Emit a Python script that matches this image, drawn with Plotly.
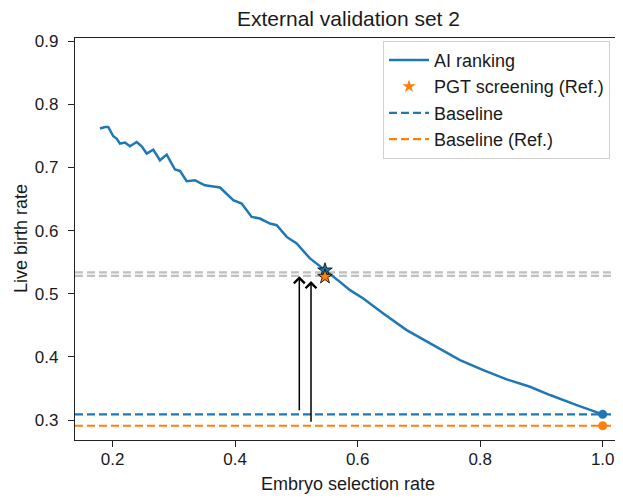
import plotly.graph_objects as go

# ---- data ----
sel_rate = [0.1793, 0.1874, 0.1928, 0.1956, 0.2010, 0.2065, 0.2119, 0.2201, 0.2282, 0.2392,
            0.2473, 0.2555, 0.2663, 0.2772, 0.2882, 0.3017, 0.3099, 0.3208, 0.3344, 0.3425,
            0.3507, 0.3616, 0.3752, 0.3969, 0.4106, 0.4269, 0.4405, 0.4568, 0.4678, 0.4841,
            0.5004, 0.5221, 0.5438, 0.5711, 0.5874, 0.6091, 0.6418, 0.6800, 0.7234, 0.7670,
            0.8051, 0.8433, 0.8813, 0.9140, 0.9576, 1.0]
live_birth = [0.7616, 0.7641, 0.7641, 0.7589, 0.7494, 0.7457, 0.7378, 0.7394, 0.7335, 0.7403,
              0.7335, 0.7220, 0.7283, 0.7114, 0.7204, 0.6967, 0.6945, 0.6782, 0.6797, 0.6755,
              0.6718, 0.6703, 0.6682, 0.6481, 0.6429, 0.6217, 0.6191, 0.6112, 0.6085, 0.5900,
              0.5796, 0.5559, 0.5400, 0.5188, 0.5057, 0.4926, 0.4688, 0.4424, 0.4187, 0.3949,
              0.3791, 0.3644, 0.3527, 0.3396, 0.3237, 0.3090]

baseline = 0.309
baseline_ref = 0.291
pgt_x = 0.5466
pgt_ai_y = 0.537
pgt_ref_y = 0.527
gray_levels = [0.5337, 0.5283]
arrow_x = [0.5047, 0.5238]
arrow_tail = [0.3131, 0.2948]
arrow_tip = [0.5278, 0.5200]

x_ticks = [0.2, 0.4, 0.6, 0.8, 1.0]
x_tick_labels = ["0.2", "0.4", "0.6", "0.8", "1.0"]
y_ticks = [0.3, 0.4, 0.5, 0.6, 0.7, 0.8, 0.9]
y_tick_labels = ["0.3", "0.4", "0.5", "0.6", "0.7", "0.8", "0.9"]

BLUE = "#1f77b4"
ORANGE = "#ff7f0e"
GRAY = "#c0c0c0"
INK = "#1a1a1a"
FONT = "Liberation Sans, Arial, sans-serif"

x_range = [0.1385, 1.0364]
y_range = [0.2684, 0.905]

fig = go.Figure()

# gray reference lines (full width)
for g in gray_levels:
    fig.add_trace(go.Scatter(x=x_range, y=[g, g], mode="lines",
                             line=dict(color=GRAY, width=2.2, dash="8px,4px"),
                             showlegend=False, hoverinfo="skip"))

# baselines
fig.add_trace(go.Scatter(x=x_range, y=[baseline, baseline], mode="lines",
                         line=dict(color=BLUE, width=2.2, dash="8px,4px"),
                         showlegend=False, hoverinfo="skip"))
fig.add_trace(go.Scatter(x=x_range, y=[baseline_ref, baseline_ref], mode="lines",
                         line=dict(color=ORANGE, width=2.2, dash="8px,4px"),
                         showlegend=False, hoverinfo="skip"))

# AI ranking curve
fig.add_trace(go.Scatter(x=sel_rate, y=live_birth, mode="lines", name="AI ranking",
                         line=dict(color=BLUE, width=2.5)))

# end dots
fig.add_trace(go.Scatter(x=[1.0], y=[baseline], mode="markers", showlegend=False,
                         marker=dict(color=BLUE, size=9)))
fig.add_trace(go.Scatter(x=[1.0], y=[baseline_ref], mode="markers", showlegend=False,
                         marker=dict(color=ORANGE, size=9)))

# stars
fig.add_trace(go.Scatter(x=[pgt_x], y=[pgt_ai_y], mode="markers", showlegend=False,
                         marker=dict(symbol="star", color=BLUE, size=11,
                                     line=dict(color="black", width=0.8))))
fig.add_trace(go.Scatter(x=[pgt_x], y=[pgt_ref_y], mode="markers", showlegend=False,
                         marker=dict(symbol="star", color=ORANGE, size=11,
                                     line=dict(color="black", width=0.8))))

# legend-only entries
fig.add_trace(go.Scatter(x=[None], y=[None], mode="markers", name="PGT screening (Ref.)",
                         marker=dict(symbol="star", color=ORANGE, size=10)))
fig.add_trace(go.Scatter(x=[None], y=[None], mode="lines", name="Baseline",
                         line=dict(color=BLUE, width=2.2, dash="8px,4px")))
fig.add_trace(go.Scatter(x=[None], y=[None], mode="lines", name="Baseline (Ref.)",
                         line=dict(color=ORANGE, width=2.2, dash="8px,4px")))

# arrows
for ax_, t0, t1 in zip(arrow_x, arrow_tail, arrow_tip):
    fig.add_annotation(x=ax_, y=t1, ax=ax_, ay=t0, xref="x", yref="y", axref="x", ayref="y",
                       text="", showarrow=True, arrowhead=4, arrowsize=1.4,
                       arrowwidth=1.5, arrowcolor="black", standoff=0, startstandoff=0)

# titles as annotations for precise placement
fig.add_annotation(text="External validation set 2", xref="paper", yref="paper",
                   x=0.4964, y=1.0497, xanchor="center", yanchor="middle",
                   showarrow=False, font=dict(size=21, color=INK))
fig.add_annotation(text="Embryo selection rate", xref="paper", yref="paper",
                   x=0.4964, y=-0.1095, xanchor="center", yanchor="middle",
                   showarrow=False, font=dict(size=18, color=INK))
fig.add_annotation(text="Live birth rate", xref="paper", yref="paper",
                   x=-0.0982, y=0.5025, xanchor="center", yanchor="middle", textangle=-90,
                   showarrow=False, font=dict(size=18, color=INK))

fig.update_layout(
    width=623, height=498,
    margin=dict(l=67, r=6, t=30, b=66),
    paper_bgcolor="white", plot_bgcolor="white",
    font=dict(family=FONT, size=17, color=INK),
    legend=dict(x=0.56, y=0.993, xanchor="left", yanchor="top",
                bordercolor="#d0d0d0", borderwidth=1, bgcolor="rgba(255,255,255,0.9)",
                font=dict(size=18), tracegroupgap=0, itemwidth=40),
    showlegend=True,
)
fig.update_xaxes(range=x_range, showgrid=False, zeroline=False,
                 showline=True, mirror=True, linecolor="#222222", linewidth=1.3,
                 ticks="outside", ticklen=6, tickwidth=1.2, tickcolor="#222222",
                 tickvals=x_ticks, ticktext=x_tick_labels, ticklabelstandoff=-3,
                 tickfont=dict(size=17))
fig.update_yaxes(range=y_range, showgrid=False, zeroline=False,
                 showline=True, mirror=False, linecolor="#222222", linewidth=1.3,
                 ticks="outside", ticklen=6, tickwidth=1.2, tickcolor="#222222",
                 tickvals=y_ticks, ticktext=y_tick_labels, ticklabelstandoff=6,
                 tickfont=dict(size=17))

fig.write_html("out.html")
